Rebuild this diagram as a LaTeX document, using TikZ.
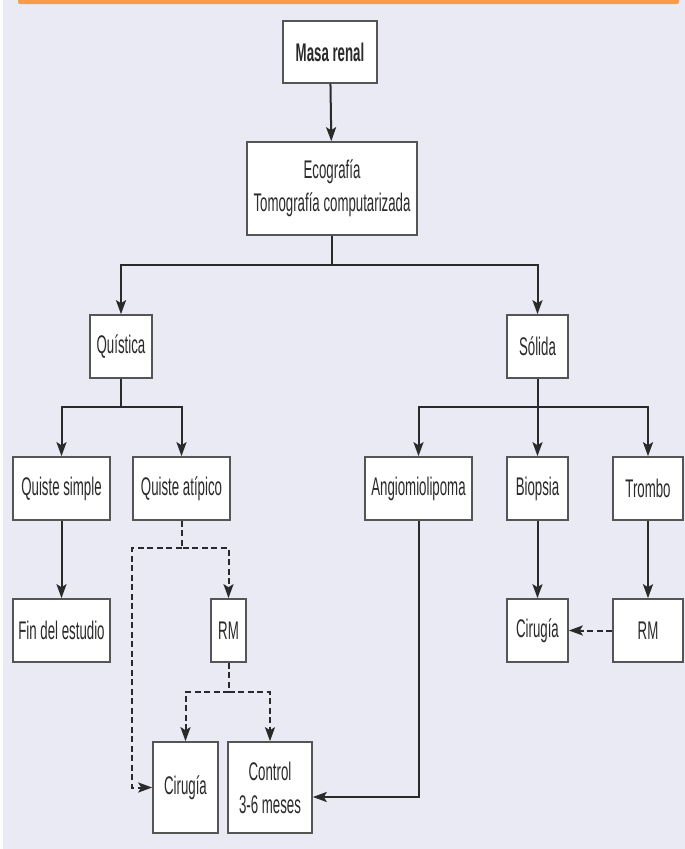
\documentclass[tikz,border=0pt]{standalone}
\usepackage{fontspec}
\setmainfont{Liberation Sans}[FakeStretch=0.52]
\usetikzlibrary{arrows.meta}
\definecolor{bgc}{HTML}{E9EAF4}
\definecolor{orangebar}{HTML}{F99B48}
\definecolor{txt}{HTML}{2A2A2A}
\definecolor{bord}{HTML}{555555}
\definecolor{linec}{HTML}{2A2A2A}
\begin{document}
\begin{tikzpicture}[x=1pt,y=-1pt,
  box/.style={draw=bord, line width=1.6pt, fill=white, inner sep=0pt, align=center,
    text=txt, font=\fontsize{25.5}{33}\selectfont, minimum height=63pt},
  line/.style={draw=linec, line width=2pt},
  conn/.style={line, -{Stealth[length=14pt,width=10pt,inset=3pt]}},
  dconn/.style={conn, dash pattern=on 6pt off 3.5pt}]
\useasboundingbox (0,0) rectangle (685,849);
\fill[white] (0,0) rectangle (685,849);
\fill[bgc] (3,0) rectangle (685,849);
\fill[orangebar, rounded corners=2pt] (18,-4) rectangle (679,4);
% nodes
\node[box, minimum width=94pt, minimum height=62pt, font=\fontsize{25.5}{33}\selectfont\bfseries] (masa) at (330,52) {Masa renal};
\node[box, minimum width=170pt, minimum height=93pt] (eco) at (332,188.5) {Ecografía\\Tomografía computarizada};
\node[box, minimum width=62pt] (quistica) at (121,346.5) {Quística};
\node[box, minimum width=61pt] (solida) at (537.5,346.5) {Sólida};
\node[box, minimum width=97pt] (qsimple) at (61.5,488.5) {Quiste simple};
\node[box, minimum width=97pt] (qatip) at (181.5,488.5) {Quiste atípico};
\node[box, minimum width=107pt] (angio) at (418.5,488.5) {Angiomiolipoma};
\node[box, minimum width=61pt] (biopsia) at (537.5,488.5) {Biopsia};
\node[box, minimum width=70pt] (trombo) at (648,488.5) {Trombo};
\node[box, minimum width=97pt] (fin) at (61.5,630.5) {Fin del estudio};
\node[box, minimum width=35pt] (rml) at (228.5,630.5) {RM};
\node[box, minimum width=61pt] (cirr) at (537.5,630.5) {Cirugía};
\node[box, minimum width=70pt] (rmr) at (648,630.5) {RM};
\node[box, minimum width=65pt, minimum height=91pt] (cirl) at (185.5,787.5) {Cirugía};
\node[box, minimum width=84pt, minimum height=91pt] (control) at (270,787.5) {Control\\3-6 meses};
% split points
\coordinate (s1) at (332,265);
\coordinate (s2) at (121,407);
\coordinate (s3) at (537.5,407);
\coordinate (d1) at (181.5,548);
\coordinate (d2) at (132,787.5);
\coordinate (d3) at (228.5,692);
\coordinate (a1) at (418.5,797);
% connectors
\draw[conn] (masa) -- (eco);
\draw[line] (eco) -- (s1);
\draw[conn] (s1) -| (quistica);
\draw[conn] (s1) -| (solida);
\draw[line] (quistica) -- (s2);
\draw[conn] (s2) -| (qsimple);
\draw[conn] (s2) -| (qatip);
\draw[conn] (solida) -- (biopsia);
\draw[conn] (s3) -| (angio);
\draw[conn] (s3) -| (trombo);
\draw[conn] (qsimple) -- (fin);
\draw[conn] (biopsia) -- (cirr);
\draw[conn] (trombo) -- (rmr);
\draw[dconn] (rmr) -- (cirr);
\draw[dconn] (qatip) -- (d1) -| (rml);
\draw[dconn] (d1) -| (d2) -- (cirl.west);
\draw[dconn] (rml) -- (d3) -| (cirl);
\draw[dconn] (d3) -| (control);
\draw[conn] (angio) -- (a1) -- (control.east |- a1);
\end{tikzpicture}
\end{document}
